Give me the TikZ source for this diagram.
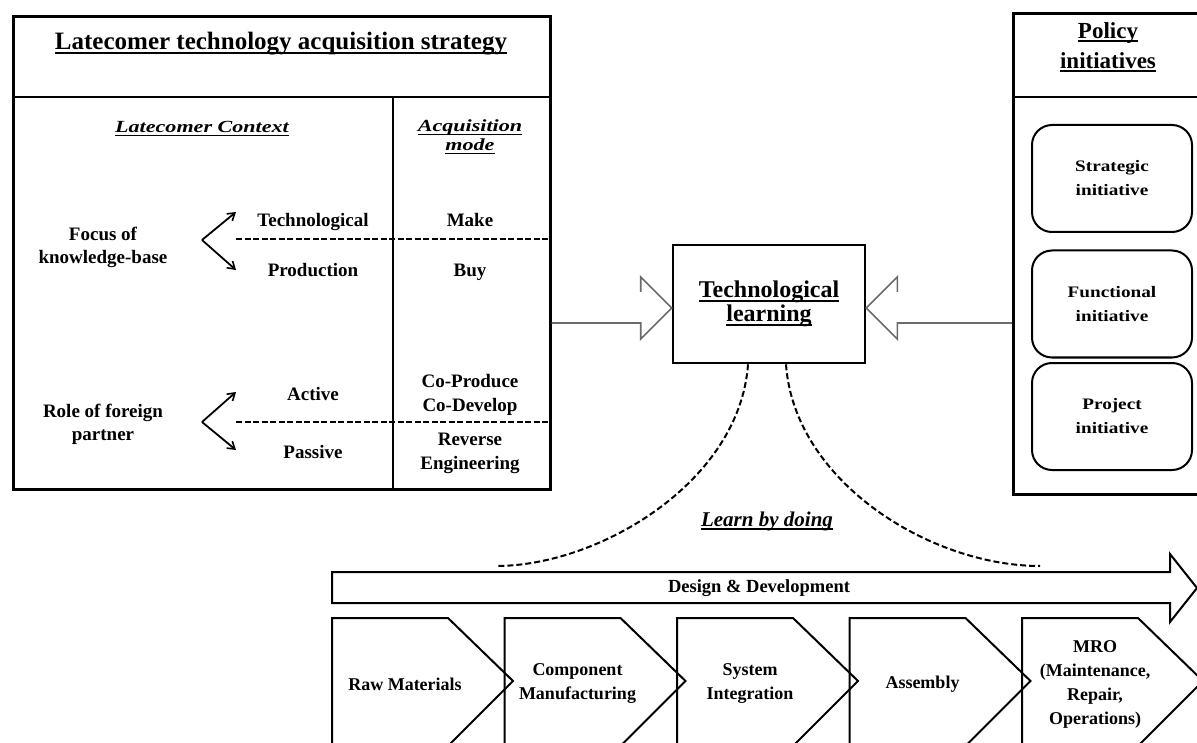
\documentclass[tikz,border=0pt]{standalone}
\usepackage{fontspec}
\usepackage{graphicx}
\setmainfont{Liberation Serif}
\usetikzlibrary{arrows.meta,calc}
\newcommand\myul[1]{\setbox0\hbox{#1}\rlap{\vrule width\wd0 height-0.1em depth0.17em}\box0}
\newcommand\sx[2]{\scalebox{#1}[1]{#2}}
\tikzset{
 frame/.style={draw, line width=2.6pt},
 bt/.style={font=\fontsize{19}{23}\selectfont\bfseries, inner sep=0pt, align=center},
 hd/.style={font=\fontsize{17}{19}\selectfont\bfseries\itshape, inner sep=0pt, align=center},
 sep/.style={line width=1.6pt, dash pattern=on 6pt off 2.5pt},
 fork/.style={line width=1.8pt, -{Straight Barb[length=7pt,width=9pt,line width=1.6pt]}},
 garrow/.style={draw=black!58, line width=1.6pt, line join=miter},
 lbd/.style={line width=2pt, dash pattern=on 6pt off 3pt},
 rrect/.style={draw, line width=2pt, rounded corners=20pt, minimum width=160pt, minimum height=107pt, font=\fontsize{16}{24}\selectfont\bfseries, align=center, inner sep=0pt},
 chev/.style={draw, line width=2pt, line join=miter},
 ct/.style={font=\fontsize{18}{24}\selectfont\bfseries, inner sep=0pt, align=center},
}
\begin{document}
\begin{tikzpicture}[x=1pt,y=-1pt]
\useasboundingbox (0,0) rectangle (1197,743);
\clip (0,0) rectangle (1197,743);
\fill[white] (0,0) rectangle (1197,743);

% ---------- left box ----------
\node[frame, minimum width=537pt, minimum height=473pt, anchor=north west] (lb) at (12,15) {};
\draw[frame] (12,97) -- (549,97);
\draw[line width=1.6pt] (393,97) -- (393,488);
\draw[sep] (236,239) -- (549,239);
\draw[sep] (236,422) -- (549,422);

\node[bt, font=\fontsize{25}{28}\selectfont\bfseries, anchor=base] (ttl) at (281,50) {\myul{Latecomer technology acquisition strategy}};
\node[hd, anchor=base] (lc) at (202,133) {\myul{\sx{1.3}{Latecomer Context}}};
\node[hd] (am) at (470,137) {\myul{\sx{1.3}{Acquisition}}\\\myul{\sx{1.3}{mode}}};

\node[bt] (fk) at (103,247) {Focus of\\knowledge-base};
\node[bt] (rf) at (103,424) {Role of foreign\\partner};

\node[bt, anchor=base] (tech) at (313,227) {Technological};
\node[bt, anchor=base] (make) at (470,227) {Make};
\node[bt, anchor=base] (prod) at (313,277) {Production};
\node[bt, anchor=base] (buy) at (470,277) {Buy};
\node[bt, anchor=base] (act) at (313,400) {Active};
\node[bt, anchor=base] (pas) at (313,458) {Passive};
\node[bt, font=\fontsize{19}{24}\selectfont\bfseries] (cop) at (470,395) {Co-Produce\\Co-Develop};
\node[bt, font=\fontsize{19}{24}\selectfont\bfseries] (rev) at (470,453) {Reverse\\Engineering};

\coordinate (f0) at (202,240);
\coordinate (f1) at (236,212);
\coordinate (f2) at (236,270);
\coordinate (r0) at (202,422);
\coordinate (r1) at (236,392);
\coordinate (r2) at (236,450);
\draw[fork] (f0) -- (f1);
\draw[fork] (f0) -- (f2);
\draw[fork] (r0) -- (r1);
\draw[fork] (r0) -- (r2);

% ---------- centre box ----------
\node[frame, minimum width=192pt, minimum height=118pt, font=\fontsize{24}{24}\selectfont\bfseries, align=center, inner sep=0pt] (tl) at (769,304) {\myul{Technological}\\\myul{learning}};

% ---------- right box ----------
\node[frame, minimum width=190pt, minimum height=481pt, anchor=north west] (rb) at (1012,12) {};
\draw[frame] (1012,97) -- (1202,97);
\node[bt, font=\fontsize{23}{30}\selectfont\bfseries] (pol) at (1108,47) {\myul{Policy}\\\myul{initiatives}};
\node[rrect] (s1) at (1112,178.5) {\sx{1.2}{Strategic}\\\sx{1.2}{initiative}};
\node[rrect] (s2) at (1112,304) {\sx{1.2}{Functional}\\\sx{1.2}{initiative}};
\node[rrect] (s3) at (1112,416.5) {\sx{1.2}{Project}\\\sx{1.2}{initiative}};

% ---------- grey block arrows ----------
\coordinate (tipL) at ($(tl.west)+(0,4)$);
\draw[garrow] ($(lb.east |- tipL)+(0,15)$) -- ($(tipL)+(-31,15)$) -- ($(tipL)+(-31,31)$) -- (tipL) -- ($(tipL)+(-31,-31)$) -- ($(tipL)+(-31,-16)$);
\coordinate (tipR) at ($(tl.east)+(0,4)$);
\draw[garrow] ($(rb.west |- tipR)+(0,15)$) -- ($(tipR)+(31,15)$) -- ($(tipR)+(31,31)$) -- (tipR) -- ($(tipR)+(31,-31)$) -- ($(tipR)+(31,-16)$);

% ---------- learn by doing ----------
\coordinate (eL) at (496,566);
\coordinate (eR) at (1040,566);
\draw[lbd] ($(tl.south)+(-21,0)$) .. controls +(-8,117) and +(104,0) .. (eL);
\draw[lbd] ($(tl.south)+(17,0)$) .. controls +(8,117) and +(-110,0) .. (eR);
\node[hd, font=\fontsize{21}{24}\selectfont\bfseries\itshape, anchor=base] (lbdt) at (767,526) {\myul{Learn by doing}};

% ---------- design & development arrow ----------
\draw[chev] (332,572) -- (1170,572) -- (1170,554) -- (1197,588) -- (1170,622) -- (1170,603) -- (332,603) -- cycle;
\node[ct, font=\fontsize{18.5}{20}\selectfont\bfseries] (dd) at (759,588) {Design \& Development};

% ---------- value chain chevrons ----------
\foreach \i/\lbl in {0/{Raw Materials}, 1/{Component\\Manufacturing}, 2/{System\\Integration}, 3/{Assembly}, 4/{MRO\\(Maintenance,\\Repair,\\Operations)}}{
  \pgfmathsetmacro{\L}{332+172.5*\i}
  \draw[chev] (\L,618) -- ++(116,0) -- ++(65,63) -- ++(-65,65) -- ++(-116,0) -- cycle;
  \node[ct] (ch\i) at (\L+73,684) {\lbl};
}
\end{tikzpicture}
\end{document}
